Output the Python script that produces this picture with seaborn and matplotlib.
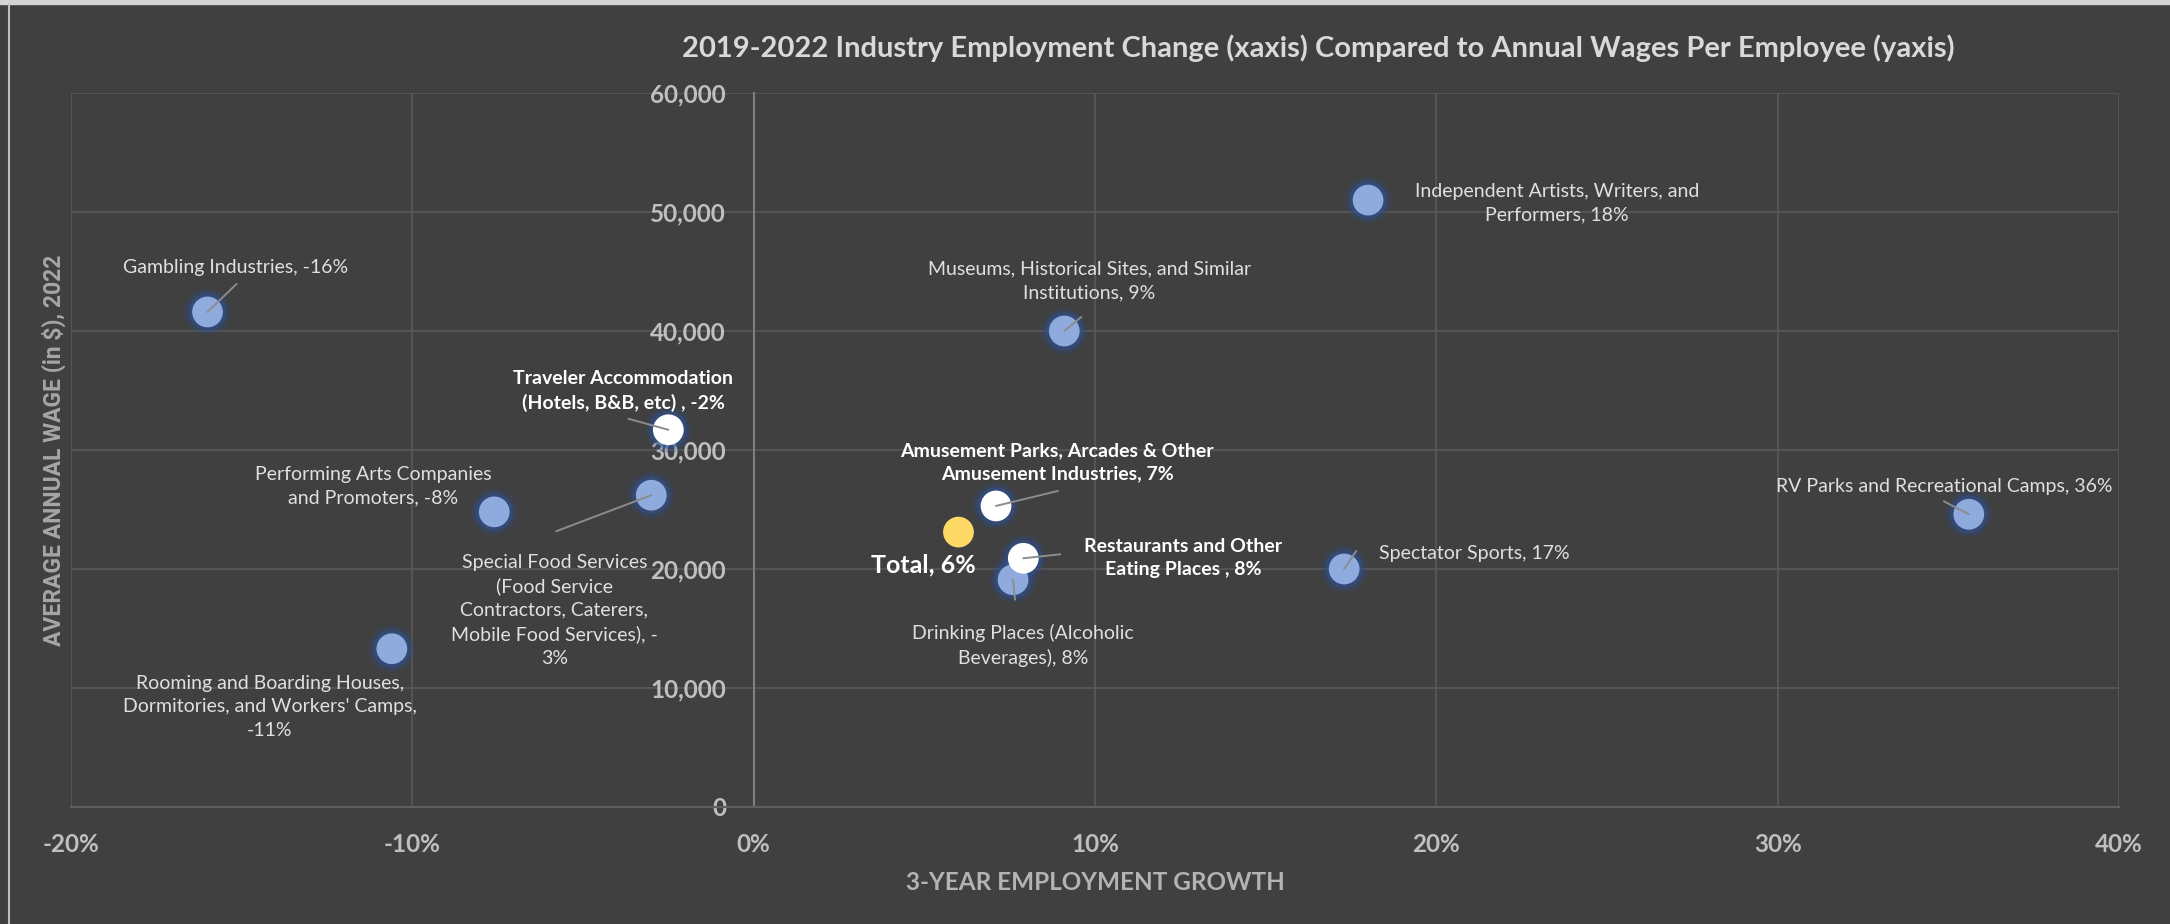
import matplotlib
matplotlib.use("Agg")
import matplotlib.pyplot as plt
from matplotlib.patches import Rectangle
from matplotlib.lines import Line2D
import pandas as pd
import seaborn as sns

# data
industries = ["Gambling Industries", "Museums, Historical Sites, and Similar Institutions",
              "Traveler Accommodation (Hotels, B&B, etc)", "Independent Artists, Writers, and Performers",
              "Performing Arts Companies and Promoters", "Special Food Services",
              "Rooming and Boarding Houses, Dormitories, and Workers' Camps",
              "Amusement Parks, Arcades & Other Amusement Industries", "Total",
              "Restaurants and Other Eating Places", "Drinking Places (Alcoholic Beverages)",
              "Spectator Sports", "RV Parks and Recreational Camps"]
growth = [-0.160, 0.091, -0.025, 0.180, -0.076, -0.030, -0.106, 0.071, 0.060, 0.079, 0.076, 0.173, 0.356]
wage = [41600, 40000, 31700, 51000, 24800, 26200, 13300, 25300, 23100, 20900, 19100, 20000, 24600]
group = ["other", "other", "focus", "other", "other", "other", "other", "focus", "total",
         "focus", "other", "other", "other"]
labels = ["Gambling Industries, -16%",
          "Museums, Historical Sites, and Similar\nInstitutions, 9%",
          "Traveler Accommodation\n(Hotels, B&B, etc) , -2%",
          "Independent Artists, Writers, and\nPerformers, 18%",
          "Performing Arts Companies\nand Promoters, -8%",
          "Special Food Services\n(Food Service\nContractors, Caterers,\nMobile Food Services), -\n3%",
          "Rooming and Boarding Houses,\nDormitories, and Workers' Camps,\n-11%",
          "Amusement Parks, Arcades & Other\nAmusement Industries, 7%",
          "Total, 6%",
          "Restaurants and Other\nEating Places , 8%",
          "Drinking Places (Alcoholic\nBeverages), 8%",
          "Spectator Sports, 17%",
          "RV Parks and Recreational Camps, 36%"]
x_ticks = [-0.2, -0.1, 0.0, 0.1, 0.2, 0.3, 0.4]
x_ticklabels = ["-20%", "-10%", "0%", "10%", "20%", "30%", "40%"]
y_ticks = [0, 10000, 20000, 30000, 40000, 50000, 60000]
y_ticklabels = ["0", "10,000", "20,000", "30,000", "40,000", "50,000", "60,000"]

# label placement (offset pixels from the point) and leader line start (None = no leader)
label_off = [(28, 44), (25, 50), (-45, 39), (189, -3), (-121, 26), (-97, -115), (-122, -58),
             (61, 44), (-35, -33), (160, 0), (10, -66), (130, 15), (-25, 28)]
leader_off = [(29, 28), (17, 14), (-40, 11), None, None, (-95, -36), None,
              (62, 15), None, (37, 4), (2, -20), (12, 18), (-25, 13)]

df = pd.DataFrame({"industry": industries, "growth": growth, "wage": wage, "group": group})

BG = "#404040"
sns.set_style("dark", rc={"axes.facecolor": BG, "figure.facecolor": BG})
plt.rcParams["font.family"] = ["Lato", "DejaVu Sans"]
plt.rcParams["axes.unicode_minus"] = False

fig = plt.figure(figsize=(21.7, 9.24), dpi=100)
ax = fig.add_axes([71 / 2170, 1 - 807 / 924, (2119 - 71) / 2170, (807 - 93) / 924])
ax.set_facecolor(BG)

for s in ["top", "right"]:
    ax.spines[s].set_visible(False)
ax.spines["left"].set_position(("data", 0))
ax.spines["left"].set_color("#7f7f7f")
ax.spines["left"].set_linewidth(1.5)
ax.spines["bottom"].set_color("#5f5f5f")
ax.spines["bottom"].set_linewidth(1.5)

ax.set_xlim(-0.2, 0.4)
ax.set_ylim(0, 60000)
ax.set_xticks(x_ticks, labels=x_ticklabels, fontweight="bold", fontsize=17.5)
ax.set_yticks(y_ticks, labels=y_ticklabels, fontweight="bold", fontsize=17.5)
ax.grid(True, color="#595959", lw=1.2)
ax.set_axisbelow(True)
ax.tick_params(axis="both", length=0, colors="#bfbfbf")
ax.tick_params(axis="y", pad=20)
ax.tick_params(axis="x", pad=19)

# glow under the markers, then the markers themselves
order = ["other", "focus", "total"]
palette = {"other": "#8faadc", "focus": "#ffffff", "total": "#ffd966"}
for g in order:
    sub = df[df["group"] == g]
    if g != "total":
        sns.scatterplot(data=sub, x="growth", y="wage", ax=ax, s=1100, color="#2b4c8c",
                        alpha=0.25, edgecolor="none", legend=False, zorder=3)
        sns.scatterplot(data=sub, x="growth", y="wage", ax=ax, s=740, color="#2f529a",
                        alpha=0.5, edgecolor="none", legend=False, zorder=3)
    sns.scatterplot(data=sub, x="growth", y="wage", ax=ax, s=490, color=palette[g],
                    edgecolor="none", legend=False, zorder=4)

for i in range(len(df)):
    xy = (df["growth"][i], df["wage"][i])
    g = df["group"][i]
    if leader_off[i] is not None:
        ax.annotate("", xy=xy, xytext=leader_off[i], textcoords="offset pixels",
                    arrowprops=dict(arrowstyle="-", color="#8c8c8c", lw=1.4,
                                    shrinkA=0, shrinkB=0), zorder=5)
    if g == "total":
        kw = dict(fontsize=18, fontweight="bold", color="#ffffff")
    elif g == "focus":
        kw = dict(fontsize=14, fontweight="bold", color="#ffffff")
    else:
        kw = dict(fontsize=14, color="#e0e0e0")
    ax.annotate(labels[i], xy=xy, xytext=label_off[i], textcoords="offset pixels",
                ha="center", va="center", linespacing=1.45, zorder=6, **kw)

ax.set_xlabel("")
ax.set_ylabel("")
fig.text(1318 / 2170, 1 - 48 / 924,
         "2019-2022 Industry Employment Change (xaxis) Compared to Annual Wages Per Employee (yaxis)",
         ha="center", va="center", fontsize=21, fontweight="bold", color="#d9d9d9")
fig.text(1095 / 2170, 1 - 882 / 924, "3-YEAR EMPLOYMENT GROWTH", ha="center", va="center",
         fontsize=17.5, fontweight="bold", color="#b3b3b3")
fig.text(54 / 2170, 1 - 450 / 924, "AVERAGE ANNUAL WAGE (in $), 2022", ha="center", va="center",
         rotation=90, fontsize=16.5, fontweight="bold", color="#a6a6a6", family=["Roboto", "Lato"])

# thin light frame of the screenshot
fig.patches.append(Rectangle((0, 1 - 4 / 924), 1, 4 / 924, transform=fig.transFigure,
                             color="#d4d4d4", zorder=0))
fig.lines.append(Line2D([8.5 / 2170, 8.5 / 2170], [0, 1 - 4 / 924], transform=fig.transFigure,
                        color="#bfbfbf", lw=1.5))

fig.savefig("out.png", dpi=100, facecolor=BG)
